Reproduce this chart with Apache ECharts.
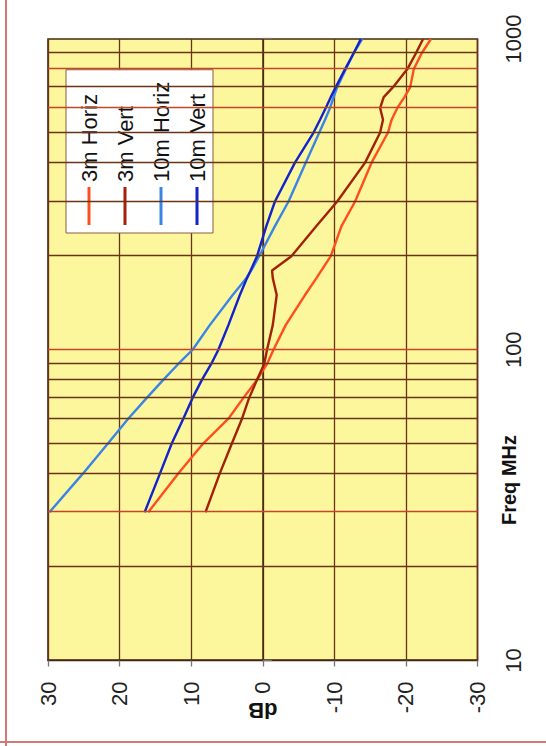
<!DOCTYPE html>
<html>
<head>
<meta charset="utf-8">
<script src="https://cdn.jsdelivr.net/npm/echarts@6/dist/echarts.min.js"></script>
<style>
html,body{margin:0;padding:0;background:#fff;overflow:hidden;width:546px;height:746px;}
#wrap{position:absolute;left:0;top:0;width:746px;height:546px;transform-origin:0 0;transform:translateY(746px) rotate(-90deg);}
</style>
</head>
<body>
<div id="wrap"></div>
<script>
// Frequencies (MHz) at which the curves were read
const freqs = [30,40,50,60,70,80,90,100,120,150,170,180,200,250,300,400,500,550,600,650,700,800,900,1000];
// dB values per series
const h3m  = [16.0,11.8,8.3,4.8,2.7,0.8,-0.6,-1.5,-3.2,-5.9,-7.5,-8.2,-9.5,-11.0,-12.9,-15.2,-17.5,-18.0,-18.8,-19.8,-20.6,-21.1,-22.2,-23.5];
const v3m  = [8.0,6.0,4.3,2.9,1.9,0.8,-0.2,-0.6,-1.4,-1.95,-1.4,-1.3,-4.0,-7.5,-10.4,-14.3,-16.4,-16.8,-16.4,-16.9,-18.2,-20.2,-21.4,-22.4];
const h10m = [29.8,25.1,21.6,18.8,16.2,13.9,11.8,9.8,7.4,4.2,2.3,1.6,0.5,-1.7,-3.6,-6.0,-7.9,-8.7,-9.4,-9.9,-10.4,-11.6,-12.7,-13.9];
const v10m = [16.5,14.35,12.7,11.1,9.8,8.5,7.2,6.2,4.8,3.2,2.2,1.7,0.8,-0.5,-1.7,-4.5,-7.1,-8.0,-8.8,-9.5,-10.2,-11.5,-12.7,-13.7];
const seriesNames = ['3m Horiz','3m Vert','10m Horiz','10m Vert'];
// Grid lines of the frequency axis
const gridFreqs = [20,30,40,50,60,70,80,90,100,200,300,400,500,600,700,800,900];
const redFreqs = [30,100,600,800];
const freqTickLabels = {10:'10',100:'100',1000:'1000'};
const dbTicks = [-30,-20,-10,0,10,20,30];

const colors = ['#FF4E1E','#A42008','#3A84E8','#1222CC'];
const brown = '#6A3414', red = '#C4462A';
const FONT = '"Liberation Sans", Arial, sans-serif';

const pairs = arr => freqs.map((f,i)=>[f,arr[i]]);
const allData = [h3m, v3m, h10m, v10m];

const chart = echarts.init(document.getElementById('wrap'), null, {renderer:'svg', width:746, height:546});

const series = [{
  type:'line', name:'_grid', data:[], silent:true, z:1,
  markLine:{
    silent:true, symbol:'none', label:{show:false}, animation:false,
    data: gridFreqs.map(f=>({xAxis:f, lineStyle:{color: redFreqs.includes(f)?red:brown, width:1.3, type:'solid'}}))
  }
}].concat(seriesNames.map((n,i)=>({
  type:'line', name:n, data:pairs(allData[i]), symbol:'none', smooth:false, z:3,
  lineStyle:{color:colors[i], width:2.4}, itemStyle:{color:colors[i]}
})));

chart.setOption({
  animation:false,
  backgroundColor:'#ffffff',
  grid:{left:85.5, right:39, top:48, bottom:68.5, show:true, backgroundColor:'#FCF79C', borderColor:'#4A2410', borderWidth:1.6},
  xAxis:{
    type:'log', logBase:10, min:10, max:1000,
    axisLine:{show:true, lineStyle:{color:'#4A2410', width:1.5}},
    axisTick:{show:true, length:9, lineStyle:{color:'#777', width:1.3}},
    axisLabel:{margin:25, fontSize:22, color:'#222', fontFamily:FONT,
      formatter:v=>freqTickLabels[Math.round(v)]||''},
    splitLine:{show:false}
  },
  yAxis:{
    type:'value', min:-30, max:30, interval:10,
    name:'dB', nameLocation:'middle', nameGap:39, nameMoveOverlap:false,
    nameTextStyle:{fontSize:22, fontWeight:'bold', color:'#111', fontFamily:FONT},
    axisLine:{show:true, lineStyle:{color:'#4A2410', width:1.5}},
    axisTick:{show:true, length:6, lineStyle:{color:'#777', width:1.3}},
    axisLabel:{margin:21, fontSize:22, color:'#222', fontFamily:FONT,
      formatter:v=>dbTicks.includes(v)?String(v):''},
    splitLine:{show:true, lineStyle:{color:brown, width:1.3}}
  },
  legend:{
    data:seriesNames, orient:'vertical', left:513, top:66,
    backgroundColor:'#fff', borderColor:'#8C5A3C', borderWidth:1,
    padding:[12,12,5,8], itemGap:14, itemWidth:38, itemHeight:3, icon:'rect',
    textStyle:{fontSize:22, color:'#111', fontFamily:FONT}
  },
  graphic:[
    {type:'text', x:266, y:509, style:{text:'Freq MHz', font:'bold 20px '+FONT, fill:'#111', align:'center', verticalAlign:'middle'}},
    {type:'line', shape:{x1:0, y1:6, x2:746, y2:6}, style:{stroke:'#D27878', lineWidth:2}},
    {type:'line', shape:{x1:4, y1:0, x2:4, y2:546}, style:{stroke:'#D27878', lineWidth:2}}
  ],
  series:series
});
</script>
</body>
</html>
